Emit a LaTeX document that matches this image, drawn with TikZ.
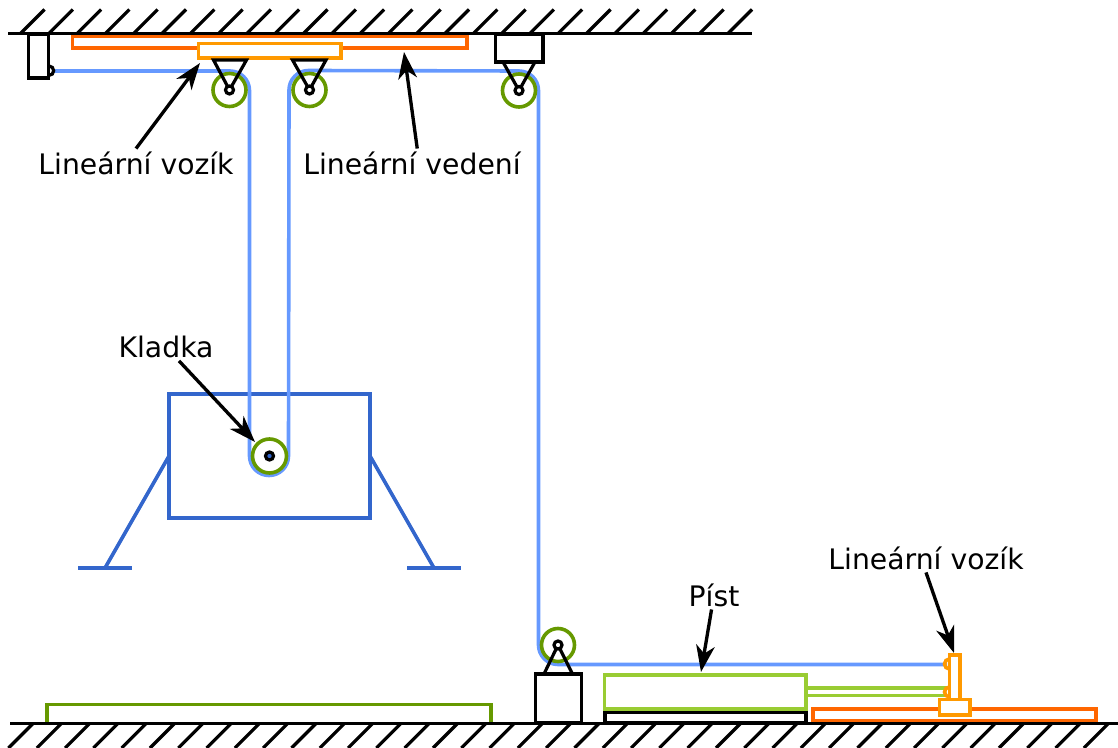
\documentclass[tikz,border=0pt]{standalone}
\usepackage{fontspec}
\setmainfont{DejaVu Sans}
\usetikzlibrary{arrows.meta}
\definecolor{ropeblue}{HTML}{6699FF}
\definecolor{frameblue}{HTML}{3366CC}
\definecolor{wheelgreen}{HTML}{669900}
\definecolor{pistongreen}{HTML}{99CC33}
\definecolor{railorange}{HTML}{FF6600}
\definecolor{cartorange}{HTML}{FF9900}
\tikzset{
	wall/.style={line width=2.6pt, color=black},
	hatch/.style={line width=2.4pt, color=black},
	part/.style={line width=2.6pt, color=black, fill=white},
	hanger/.style={line width=2.4pt, color=black},
	rope/.style={line width=2.7pt, color=ropeblue},
	wheel/.style={line width=2.7pt, color=wheelgreen},
	axle/.style={line width=2.4pt, color=black, fill=white},
	rail/.style={line width=2.7pt, color=railorange, fill=white},
	cart/.style={line width=2.7pt, color=cartorange, fill=white},
	frame/.style={line width=2.7pt, color=frameblue},
	piston/.style={line width=2.7pt, color=pistongreen},
	label/.style={font=\fontsize{21.2}{25}\selectfont, inner sep=2pt},
	pointer/.style={line width=2.5pt, -{Stealth[length=20pt, width=14pt, inset=6pt]}}
}
\begin{document}
\begin{tikzpicture}[x=0.75pt, y=-0.75pt]
		%%%%% START %%%%%
		\useasboundingbox (0, 0) rectangle (1118, 748);
		
		% rail and cart on the ceiling
		\draw[rail] (72.5, 36) rectangle (467, 48);
		\draw[cart] (198.5, 43.5) rectangle (341, 58);
		
		% floor parts
		\draw[line width=2.7pt, color=wheelgreen] (47, 723) -- (47, 704.5) -- (491, 704.5) -- (491, 723);
		\draw[part] (605, 712.5) rectangle (806, 723);
		\draw[piston, fill=white] (604.5, 675) rectangle (806, 709);
		\draw[piston] (806, 688) -- (947, 688);
		\draw[piston] (806, 695.5) -- (947, 695.5);
		
		% frame with legs
		\draw[frame] (169, 394) rectangle (370, 518);
		\draw[frame] (169, 456) -- (105, 568);
		\draw[frame] (78, 568) -- (132, 568);
		\draw[frame] (370, 456) -- (434, 568);
		\draw[frame] (407, 568) -- (461, 568);
		
		% rope
		\draw[rope] (54, 71) -- (230, 71) arc (-90:0:19.5) -- (249.5, 456) arc (180:0:19.5)
			-- (289, 90) arc (180:270:19.5) -- (519, 71) arc (-90:0:19.5)
			-- (538.5, 645) arc (180:90:19.5) -- (947, 664.5);
		
		% pulleys
		\draw[wheel] (229.5, 90) circle (16.5);
		\draw[wheel] (309.5, 90) circle (16.5);
		\draw[wheel] (519, 90.5) circle (16.5);
		\draw[wheel] (558, 645) circle (16.5);
		\draw[wheel] (269.5, 456) circle (17);
		
		% blocks and hangers
		\draw[part] (28.5, 34) rectangle (48.5, 78);
		\draw[hanger] (49, 66) arc (-90:90:4.7);
		\draw[part] (495.5, 34) rectangle (543, 62);
		\draw[hanger] (213.5, 60) -- (229.5, 90) -- (246.5, 60) -- cycle;
		\draw[hanger] (292.5, 60) -- (309.5, 90) -- (326, 60) -- cycle;
		\draw[hanger] (503, 62) -- (519, 90.5) -- (535, 62);
		\draw[part] (535.5, 674) rectangle (581.5, 723);
		\draw[hanger] (544, 674) -- (558, 645) -- (572.5, 674);
		
		% axles
		\draw[axle] (229.5, 90) circle (4);
		\draw[axle] (309.5, 90) circle (4);
		\draw[axle] (519, 90.5) circle (4);
		\draw[axle] (558, 645) circle (4);
		\draw[axle, fill=frameblue] (269.5, 456) circle (4);
		
		% carriage on the floor rail
		\draw[rail] (813, 709) rectangle (1096, 721);
		\draw[cart] (949.5, 655) rectangle (960, 699.5);
		\draw[cart] (939.5, 699.5) rectangle (970, 715);
		\draw[cart, fill=none] (949.5, 659) arc (-90:-270:5);
		\draw[cart, fill=none] (949.5, 687) arc (-90:-270:5);
		
		% ceiling and ground
		\draw[wall] (8, 33.5) -- (752, 33.5);
		\draw[wall] (10, 723.5) -- (1118, 723.5);
		\foreach \i in {0,...,25}
			\draw[hatch] ({20.5+28.3*\i}, 33.5) -- ({44.5+28.3*\i}, 9.5);
		\foreach \i in {0,...,38}
			\draw[hatch] ({33+28.3*\i}, 723.5) -- ({8.5+28.3*\i}, 748);
		
		% labels
		\node[label] (lblCartTop) at (136, 163) {Lineární vozík};
		\node[label] (lblGuide) at (412, 163) {Lineární vedení};
		\node[label] (lblPulley) at (166, 347) {Kladka};
		\node[label] (lblPiston) at (714, 595) {Píst};
		\node[label] (lblCartEnd) at (926, 558) {Lineární vozík};
		
		\coordinate (tipCartTop) at (200, 63);
		\coordinate (tipGuide) at (404, 52);
		\coordinate (tipPulley) at (255, 442);
		\coordinate (tipPiston) at (701, 672);
		\coordinate (tipCartEnd) at (954, 653);
		
		\draw[pointer] (lblCartTop.north) -- (tipCartTop);
		\draw[pointer] (lblGuide.70) -- (tipGuide);
		\draw[pointer] (lblPulley) -- (tipPulley);
		\draw[pointer] (lblPiston) -- (tipPiston);
		\draw[pointer] (lblCartEnd.south) -- (tipCartEnd);
		
		%%%%% END %%%%%
	\end{tikzpicture}
\end{document}
